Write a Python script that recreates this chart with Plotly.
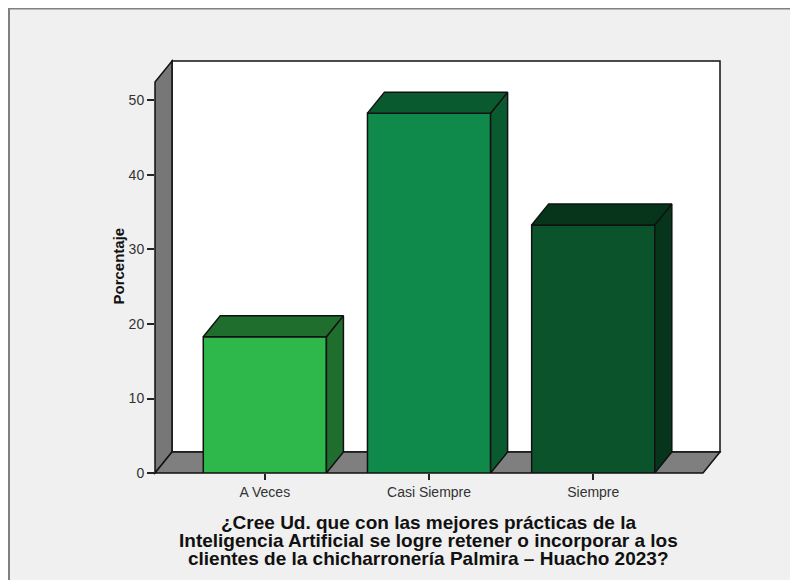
import plotly.graph_objects as go

# data
categorias = ["A Veces", "Casi Siempre", "Siempre"]
porcentajes = [18.3, 48.3, 33.3]
y_ticks = [0, 10, 20, 30, 40, 50]
titulo_x = ["¿Cree Ud. que con las mejores prácticas de la",
            "Inteligencia Artificial se logre retener o incorporar a los",
            "clientes de la chicharronería Palmira – Huacho 2023?"]

# styles
colores_frente = ["#2eb84b", "#0f8a4a", "#0a532b"]
colores_lado = ["#1f6e2e", "#0a5a2f", "#07351c"]
borde = "#111111"

# 3d geometry (axis units)
X_RANGE = [-0.669, 2.772]
Y_RANGE = [0, 55.3]
ANCHO = 0.75
DX = 0.1035
DY = 2.82
X_FRONT_R = X_RANGE[1] - DX

# page body has an 8px margin, so the figure starts at (8, 8)
W, H = 790, 572
M_L, M_R, M_T, M_B = 147, 78, 53, 107
PW, PH = W - M_L - M_R, H - M_T - M_B


def px(x):
    return (x - X_RANGE[0]) / (X_RANGE[1] - X_RANGE[0])


def py(y):
    return (y - Y_RANGE[0]) / (Y_RANGE[1] - Y_RANGE[0])


def fx(p):  # figure pixel -> paper x
    return (p - M_L) / PW


def fy(p):  # figure pixel -> paper y
    return (H - M_B - p) / PH


def path(pts):
    return "M " + " L ".join(f"{px(x):.5f},{py(y):.5f}" for x, y in pts) + " Z"


x0 = X_RANGE[0]
ytop = Y_RANGE[1]
shapes = [
    # outer frame
    dict(type="rect", xref="paper", yref="paper", x0=fx(1), x1=1.6,
         y0=-0.5, y1=fy(0.5),
         fillcolor="#f0f0f0", line=dict(color="#808080", width=2), layer="below"),
    # back wall
    dict(type="path", xref="paper", yref="paper", layer="below",
         path=path([(x0 + DX, DY), (X_RANGE[1], DY), (X_RANGE[1], ytop), (x0 + DX, ytop)]),
         fillcolor="white", line=dict(color=borde, width=1.5)),
    # left wall
    dict(type="path", xref="paper", yref="paper", layer="below",
         path=path([(x0, 0), (x0 + DX, DY), (x0 + DX, ytop), (x0, ytop - DY)]),
         fillcolor="#777777", line=dict(color=borde, width=1.5)),
    # floor
    dict(type="path", xref="paper", yref="paper", layer="below",
         path=path([(x0, 0), (X_FRONT_R, 0), (X_RANGE[1], DY), (x0 + DX, DY)]),
         fillcolor="#7f7f7f", line=dict(color=borde, width=1.5)),
]

fig = go.Figure()

fig.add_trace(go.Bar(
    x=list(range(len(categorias))),
    y=porcentajes,
    width=ANCHO,
    marker=dict(color=colores_frente, line=dict(color=borde, width=1.5)),
    hoverinfo="skip",
))

# tops and sides of each bar
for i, v in enumerate(porcentajes):
    xl, xr = i - ANCHO / 2, i + ANCHO / 2
    lado_x = [xr, xr + DX, xr + DX, xr, xr]
    lado_y = [0, DY, v + DY, v, 0]
    top_x = [xl, xr, xr + DX, xl + DX, xl]
    top_y = [v, v, v + DY, v + DY, v]
    for xs, ys in ((lado_x, lado_y), (top_x, top_y)):
        fig.add_trace(go.Scatter(
            x=xs, y=ys, mode="lines", fill="toself",
            fillcolor=colores_lado[i], line=dict(color=borde, width=1.5),
            hoverinfo="skip",
        ))

annotations = [
    dict(text="<b>Porcentaje</b>", xref="paper", yref="paper",
         x=fx(99), y=fy(258), textangle=-90, showarrow=False,
         font=dict(size=15, color="#111111")),
]
# title lines, 18px apart
for k, linea in enumerate(titulo_x):
    annotations.append(dict(
        text="<b>" + linea + "</b>", xref="paper", yref="paper",
        x=fx(420), y=fy(514 + 18 * k), xanchor="center", yanchor="middle",
        showarrow=False, font=dict(size=19, color="#111111")))

fig.update_layout(
    width=W, height=H,
    margin=dict(l=M_L, r=M_R, t=M_T, b=M_B),
    paper_bgcolor="white",
    plot_bgcolor="rgba(0,0,0,0)",
    showlegend=False,
    font=dict(family="Liberation Sans, Arial, sans-serif", color="#333333"),
    shapes=shapes,
    xaxis=dict(range=X_RANGE, tickvals=list(range(len(categorias))), ticktext=categorias,
               ticks="outside", ticklen=6, tickwidth=1.5, tickcolor="#222222",
               showline=False, showgrid=False, zeroline=False,
               tickfont=dict(size=14, color="#333333")),
    yaxis=dict(range=Y_RANGE, tickvals=y_ticks, ticks="outside", ticklen=7,
               tickwidth=1.5, tickcolor="#222222",
               showline=False, showgrid=False, zeroline=False,
               tickfont=dict(size=14, color="#333333")),
    annotations=annotations,
)

fig.write_html("out.html")
